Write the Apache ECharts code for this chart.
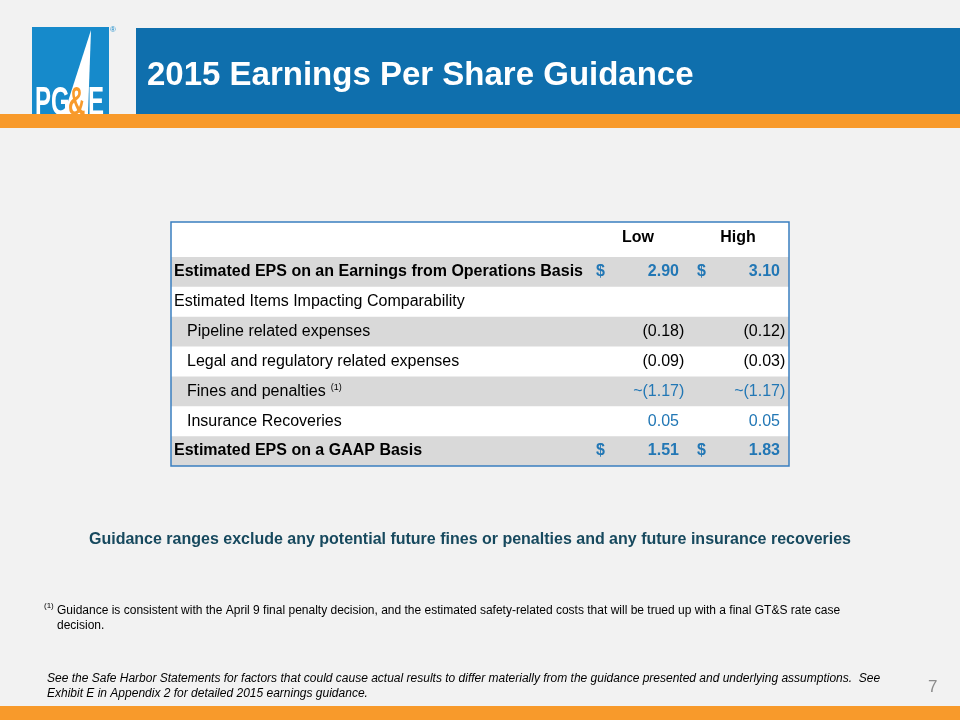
<!DOCTYPE html>
<html>
<head>
<meta charset="utf-8">
<script src="https://cdn.jsdelivr.net/npm/echarts@6/dist/echarts.min.js"></script>
<style>
  html, body { margin: 0; padding: 0; background: #f2f2f2; }
  #main { width: 960px; height: 720px; }
</style>
</head>
<body>
<div id="main"></div>
<script>
// table data
const rowLabels = [
  'Estimated EPS on an Earnings from Operations Basis',
  'Estimated Items Impacting Comparability',
  'Pipeline related expenses',
  'Legal and regulatory related expenses',
  'Fines and penalties',
  'Insurance Recoveries',
  'Estimated EPS on a GAAP Basis'
];
const rowKinds = ['total', 'group', 'item', 'item', 'item', 'item', 'total'];
const columnHeads = ['Low', 'High'];
const lowValues = [2.90, null, -0.18, -0.09, -1.17, 0.05, 1.51];
const highValues = [3.10, null, -0.12, -0.03, -1.17, 0.05, 1.83];
const approxRows = [4];
const noteRows = [4];
const blueRows = [0, 4, 5, 6];

const FONT = "'Liberation Sans', Arial, sans-serif";
const BLUE = '#2277b5';
// table layout (x in px from left edge of the table)
const TBL = { left: 171, top: 222, width: 618, head: 35, height: 244 };
const COL = { lowDollar: 425, low: 508, highDollar: 526, high: 609 };
const headPos = [467, 567];

const chart = echarts.init(document.getElementById('main'));

function fmt(v, approx) {
  const s = Math.abs(v).toFixed(2);
  return (approx ? '~' : '') + (v < 0 ? '(' + s : s);
}

function renderRow(params, api) {
  const i = api.value(1);
  const y = api.coord([0, i])[1];
  const bold = rowKinds[i] === 'total';
  const color = blueRows.indexOf(i) >= 0 ? BLUE : '#000';
  const font = (bold ? 'bold ' : '') + '16px ' + FONT;
  const kids = [];
  const cols = [[lowValues[i], COL.low, COL.lowDollar], [highValues[i], COL.high, COL.highDollar]];
  cols.forEach(function (c) {
    const v = c[0];
    if (v == null) return;
    const x = api.coord([c[1], i])[0];
    kids.push({ type: 'text', x: x, y: y, style: { text: fmt(v, approxRows.indexOf(i) >= 0), font: font, fill: color, textAlign: 'right', textVerticalAlign: 'middle' } });
    if (v < 0) {
      kids.push({ type: 'text', x: x, y: y, style: { text: ')', font: font, fill: color, textAlign: 'left', textVerticalAlign: 'middle' } });
    }
    if (bold) {
      kids.push({ type: 'text', x: api.coord([c[2], i])[0], y: y, style: { text: '$', font: font, fill: color, textAlign: 'left', textVerticalAlign: 'middle' } });
    }
  });
  return { type: 'group', children: kids };
}

function txt(x, y, text, font, fill, align, vAlign, extra) {
  return Object.assign({
    type: 'text', x: x, y: y,
    style: { text: text, font: font, fill: fill, textAlign: align || 'left', textVerticalAlign: vAlign || 'middle' }
  }, extra || {});
}

const logoFont = 'bold 40px ' + FONT;

const option = {
  backgroundColor: '#f2f2f2',
  animation: false,
  grid: { left: TBL.left, top: TBL.top + TBL.head, width: TBL.width, height: TBL.height - TBL.head },
  xAxis: {
    type: 'value',
    min: 0,
    max: TBL.width,
    position: 'top',
    axisLine: { show: false },
    axisTick: { show: false },
    splitLine: { show: false },
    axisLabel: {
      customValues: headPos,
      formatter: function (v) { return columnHeads[headPos.indexOf(v)]; },
      fontFamily: FONT,
      fontSize: 16,
      fontWeight: 'bold',
      color: '#000',
      margin: 11
    }
  },
  yAxis: {
    type: 'category',
    data: rowLabels,
    inverse: true,
    z: 8,
    axisLine: { show: false },
    axisTick: { show: false },
    splitLine: { show: false },
    axisLabel: {
      inside: true,
      align: 'left',
      margin: 3,
      formatter: function (v, i) {
        if (rowKinds[i] === 'total') return '{b|' + v + '}';
        if (rowKinds[i] === 'group') return '{n|' + v + '}';
        return '{i|' + v + '}' + (noteRows.indexOf(i) >= 0 ? '{s|(1)}' : '');
      },
      rich: {
        b: { fontFamily: FONT, fontSize: 16, fontWeight: 'bold', color: '#000' },
        n: { fontFamily: FONT, fontSize: 16, color: '#000' },
        i: { fontFamily: FONT, fontSize: 16, color: '#000', padding: [0, 0, 0, 13] },
        s: { fontFamily: FONT, fontSize: 9, color: '#000', verticalAlign: 'top', padding: [0, 0, 0, 5] }
      }
    }
  },
  series: [
    {
      type: 'bar',
      silent: true,
      barWidth: '100%',
      z: 1,
      itemStyle: { color: '#d9d9d9' },
      data: rowLabels.map(function (_, i) { return i % 2 === 0 ? TBL.width : '-'; })
    },
    {
      type: 'custom',
      silent: true,
      z: 5,
      clip: false,
      encode: { x: 0, y: 1 },
      renderItem: renderRow,
      data: rowLabels.map(function (_, i) { return [0, i]; })
    }
  ],
  graphic: [
    // logo
    { type: 'rect', z: 0, shape: { x: 32, y: 27, width: 77, height: 88 }, style: { fill: '#168acb' } },
    { type: 'polygon', z: 1, shape: { points: [[91, 30], [88, 114], [64, 114]] }, style: { fill: '#ffffff' } },
    txt(35, 124, 'P', logoFont, '#ffffff', 'left', 'bottom', { scaleX: 0.6, z: 2 }),
    txt(51, 124, 'G', logoFont, '#ffffff', 'left', 'bottom', { scaleX: 0.6, z: 2 }),
    txt(68, 124, '&', logoFont, '#f89a2b', 'left', 'bottom', { scaleX: 0.6, z: 2 }),
    txt(88, 124, 'E', logoFont, '#ffffff', 'left', 'bottom', { scaleX: 0.6, z: 2 }),
    txt(110, 30, '®', '8px ' + FONT, '#168acb'),
    // title bar
    { type: 'rect', z: 0, shape: { x: 136, y: 28, width: 824, height: 87 }, style: { fill: '#0f6fad' } },
    txt(147, 76, '2015 Earnings Per Share Guidance', 'bold 33px ' + FONT, '#ffffff'),
    { type: 'rect', z: 3, shape: { x: 0, y: 114, width: 960, height: 14 }, style: { fill: '#f89a2b' } },
    { type: 'rect', z: 3, shape: { x: 0, y: 706, width: 960, height: 14 }, style: { fill: '#f89a2b' } },
    // table frame
    { type: 'rect', z: -5, shape: { x: TBL.left, y: TBL.top, width: TBL.width, height: TBL.height }, style: { fill: '#ffffff' } },
    { type: 'rect', z: 50, shape: { x: TBL.left, y: TBL.top, width: TBL.width, height: TBL.height }, style: { fill: null, stroke: '#3a7fc0', lineWidth: 1.5 } },
    // notes
    txt(470, 540, 'Guidance ranges exclude any potential future fines or penalties and any future insurance recoveries', 'bold 16px ' + FONT, '#17495e', 'center'),
    txt(44, 606, '(1)', '8px ' + FONT, '#000'),
    txt(57, 611, 'Guidance is consistent with the April 9 final penalty decision, and the estimated safety-related costs that will be trued up with a final GT&S rate case', '12px ' + FONT, '#000'),
    txt(57, 626, 'decision.', '12px ' + FONT, '#000'),
    txt(47, 679, 'See the Safe Harbor Statements for factors that could cause actual results to differ materially from the guidance presented and underlying assumptions.  See', 'italic 12px ' + FONT, '#000'),
    txt(47, 694, 'Exhibit E in Appendix 2 for detailed 2015 earnings guidance.', 'italic 12px ' + FONT, '#000'),
    txt(928, 687, '7', '17px ' + FONT, '#8c8c8c')
  ]
};

chart.setOption(option);
</script>
</body>
</html>
